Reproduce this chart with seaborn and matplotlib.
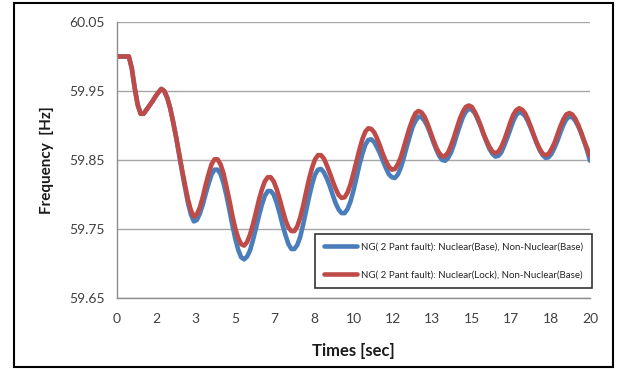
import numpy as np
import pandas as pd
import matplotlib
matplotlib.use("Agg")
import matplotlib.pyplot as plt
import seaborn as sns
from matplotlib.patches import Rectangle

# time axis (sec), one reading every 0.125 s
times = np.arange(0, 20.001, 0.125)

# first 2.5 s: both cases on top of each other
freq_start = [
    60.000, 60.000, 60.000, 60.000, 60.000, 59.983, 59.954, 59.930, 59.917, 59.917,
    59.923, 59.929, 59.935, 59.942, 59.948, 59.953, 59.950, 59.940, 59.925, 59.905,
    59.883,
]

# NG(2 plant fault), Nuclear(Base) -- blue, from 2.625 s
freq_base = freq_start + [
    59.858, 59.833, 59.810, 59.788, 59.771, 59.761,
    59.763, 59.772, 59.785, 59.801, 59.816, 59.829, 59.836,
    59.836, 59.830, 59.817, 59.799, 59.778, 59.756, 59.736, 59.720, 59.709, 59.706,
    59.710, 59.719, 59.734, 59.751, 59.769, 59.785, 59.798, 59.805,
    59.805, 59.800, 59.788, 59.773, 59.756, 59.741, 59.728, 59.721,
    59.721, 59.727, 59.739, 59.757, 59.777, 59.797, 59.815, 59.829, 59.836,
    59.837, 59.832, 59.823, 59.812, 59.799, 59.787, 59.778, 59.773,
    59.773, 59.779, 59.790, 59.806, 59.824, 59.843, 59.859, 59.872, 59.879,
    59.880, 59.876, 59.868, 59.859, 59.848, 59.838, 59.829, 59.825,
    59.824, 59.829, 59.839, 59.853, 59.869, 59.884, 59.898, 59.907, 59.913,
    59.912, 59.907, 59.899, 59.888, 59.876, 59.865, 59.856, 59.850, 59.849,
    59.853, 59.861, 59.873, 59.887, 59.900, 59.912, 59.920, 59.924,
    59.923, 59.918, 59.909, 59.899, 59.887, 59.876, 59.866, 59.859, 59.855,
    59.856, 59.861, 59.871, 59.882, 59.894, 59.906, 59.915, 59.919,
    59.918, 59.914, 59.906, 59.896, 59.885, 59.874, 59.864, 59.857, 59.853,
    59.854, 59.859, 59.868, 59.878, 59.890, 59.901, 59.909, 59.913,
    59.912, 59.907, 59.899, 59.889, 59.877, 59.864, 59.849,
]

# NG(2 plant fault), Nuclear(Lock) -- red, from 2.625 s
freq_lock = freq_start + [
    59.860, 59.836, 59.814, 59.793, 59.777, 59.768,
    59.771, 59.781, 59.796, 59.814, 59.830, 59.844, 59.851,
    59.851, 59.844, 59.831, 59.812, 59.792, 59.770, 59.751, 59.737, 59.728,
    59.726, 59.731, 59.742, 59.757, 59.774, 59.792, 59.807, 59.819, 59.825,
    59.825, 59.819, 59.808, 59.794, 59.778, 59.763, 59.752, 59.747,
    59.747, 59.754, 59.767, 59.784, 59.804, 59.823, 59.839, 59.851, 59.857,
    59.857, 59.852, 59.842, 59.831, 59.819, 59.808, 59.799, 59.795,
    59.796, 59.803, 59.815, 59.831, 59.848, 59.865, 59.880, 59.891, 59.896,
    59.895, 59.890, 59.881, 59.870, 59.858, 59.848, 59.840, 59.836,
    59.837, 59.844, 59.854, 59.868, 59.883, 59.897, 59.909, 59.918, 59.921,
    59.919, 59.913, 59.903, 59.891, 59.879, 59.868, 59.860, 59.855,
    59.856, 59.861, 59.871, 59.883, 59.897, 59.910, 59.920, 59.927,
    59.929, 59.927, 59.920, 59.911, 59.900, 59.888, 59.878, 59.869, 59.862, 59.860,
    59.862, 59.869, 59.879, 59.891, 59.904, 59.915, 59.922, 59.925,
    59.923, 59.918, 59.909, 59.898, 59.886, 59.875, 59.866, 59.859, 59.857,
    59.859, 59.866, 59.875, 59.887, 59.899, 59.909, 59.916, 59.918,
    59.916, 59.910, 59.901, 59.890, 59.878, 59.867, 59.856,
]

labels = [
    "NG( 2 Pant fault): Nuclear(Base), Non-Nuclear(Base)",
    "NG( 2 Pant fault): Nuclear(Lock), Non-Nuclear(Base)",
]
colors = ["#4A7EBB", "#BE4B48"]

x_tick_labels = ["0", "2", "3", "5", "7", "8", "10", "12", "13", "15", "17", "18", "20"]
y_ticks = [59.65, 59.75, 59.85, 59.95, 60.05]

df = pd.concat([
    pd.DataFrame({"t": times, "f": freq_base, "case": labels[0]}),
    pd.DataFrame({"t": times, "f": freq_lock, "case": labels[1]}),
])

sns.set_style("white")
plt.rcParams["font.family"] = ["Lato", "DejaVu Sans"]

fig = plt.figure(figsize=(6.17, 3.69), dpi=100)
ax = fig.add_axes([117 / 617, 1 - 298 / 369, 473 / 617, 276 / 369])

sns.lineplot(data=df, x="t", y="f", hue="case", hue_order=labels,
             palette=colors, linewidth=3.3, ax=ax)
for ln in ax.lines:
    ln.set_solid_joinstyle("round")
    ln.set_solid_capstyle("round")

ax.set_xlim(0, 20)
ax.set_ylim(59.65, 60.05)
ax.set_xticks(np.linspace(0, 20, 13))
ax.set_xticklabels(x_tick_labels)
ax.set_yticks(y_ticks)
ax.set_yticklabels([f"{v:.2f}" for v in y_ticks])
ax.tick_params(axis="both", colors="#8c8c8c", labelcolor="#404040",
               labelsize=10, length=5, width=1, direction="out")
ax.tick_params(axis="x", pad=6)
ax.yaxis.grid(True, color="#a6a6a6", linewidth=1)
ax.xaxis.grid(False)
for s in ["top", "right"]:
    ax.spines[s].set_visible(False)
for s in ["left", "bottom"]:
    ax.spines[s].set_color("#8c8c8c")
    ax.spines[s].set_linewidth(1)

ax.set_xlabel("Times [sec]", fontsize=12, fontweight="bold", color="#1a1a1a", labelpad=13)
ax.set_ylabel("Frequency  [Hz]", fontsize=11, fontweight="bold", color="#1a1a1a", labelpad=11)

leg = ax.legend(loc="lower left", bbox_to_anchor=(315 / 617, 1 - 288 / 369),
                bbox_transform=fig.transFigure, fontsize=7, frameon=True,
                fancybox=False, edgecolor="black", labelspacing=1.9,
                handlelength=3.4, handletextpad=0.4, borderpad=0.9,
                borderaxespad=0)
leg.get_frame().set_linewidth(1.2)
leg.set_title(None)

fig.patches.append(Rectangle((14 / 617, 2 / 369), 599 / 617, 364 / 369,
                             transform=fig.transFigure, fill=False,
                             edgecolor="black", linewidth=1.5))

fig.savefig("out.png", dpi=100)
